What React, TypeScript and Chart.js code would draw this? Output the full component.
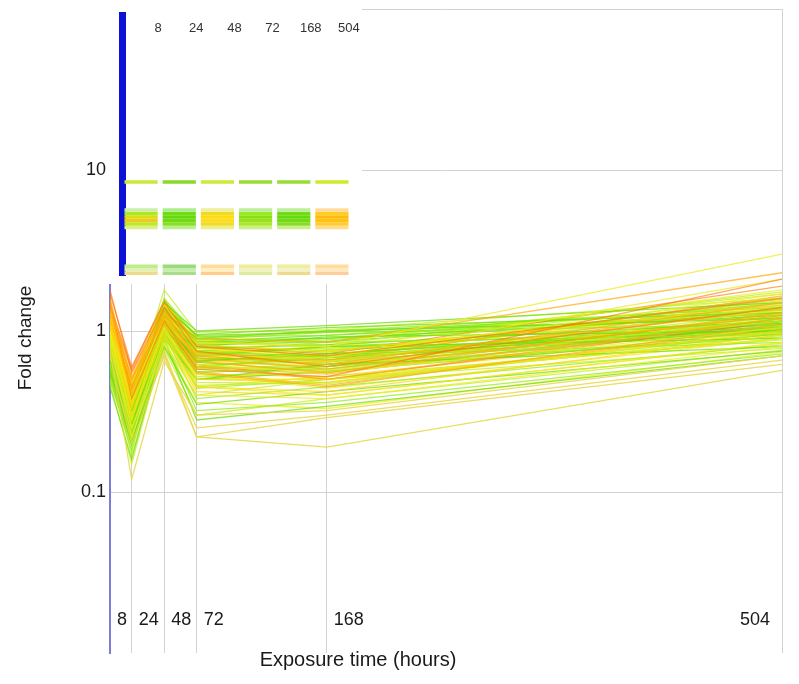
import React, { useEffect, useRef } from "react";
import { Chart, registerables } from "chart.js";

Chart.register(...registerables);

// ---------- data ----------
const timePoints = [8, 24, 48, 72, 168, 504];
const timeLabels = ["8", "24", "48", "72", "168", "504"];
const yTickValues = [0.1, 1, 10];
const yTickLabels = ["0.1", "1", "10"];
const yGridValues = [0.1, 1, 10, 100];

// fold change at 8, 24, 48, 72, 168, 504 h
const seriesValues: number[][] = [
  [1.8, 0.55, 1.4, 0.75, 0.6, 1.4],
  [1.6, 0.45, 1.3, 0.65, 0.55, 1.3],
  [1.5, 0.5, 1.2, 0.6, 0.5, 1.2],
  [1.7, 0.6, 1.5, 0.8, 0.7, 1.6],
  [1.4, 0.4, 1.1, 0.55, 0.45, 1.1],
  [1.3, 0.35, 1.0, 0.5, 0.48, 1.0],
  [1.2, 0.42, 1.25, 0.7, 0.62, 1.5],
  [1.55, 0.38, 1.15, 0.58, 0.52, 2.1],
  [1.1, 0.3, 0.95, 0.45, 0.42, 0.95],
  [1.35, 0.5, 1.35, 0.68, 0.58, 1.25],
  [1.0, 0.3, 1.1, 0.62, 0.55, 1.05],
  [0.95, 0.28, 1.05, 0.5, 0.5, 0.9],
  [0.9, 0.25, 0.9, 0.45, 0.4, 0.85],
  [1.05, 0.33, 1.2, 0.72, 0.65, 1.35],
  [0.85, 0.22, 0.85, 0.4, 0.38, 0.8],
  [1.15, 0.36, 1.3, 0.78, 0.7, 1.7],
  [0.8, 0.25, 0.75, 0.22, 0.19, 0.57],
  [0.7, 0.2, 0.7, 0.22, 0.29, 0.62],
  [0.75, 0.12, 0.65, 0.3, 0.32, 0.7],
  [1.0, 0.4, 1.2, 0.85, 0.8, 3.0],
  [1.1, 0.45, 1.3, 0.9, 0.85, 2.3],
  [0.95, 0.35, 1.15, 0.7, 0.68, 2.1],
  [0.9, 0.3, 1.0, 0.6, 0.58, 1.2],
  [1.2, 0.48, 1.45, 0.82, 0.75, 1.45],
  [0.9, 0.35, 1.4, 0.95, 1.05, 1.3],
  [0.8, 0.3, 1.3, 0.9, 1.0, 1.2],
  [0.7, 0.28, 1.25, 0.88, 0.98, 1.1],
  [0.65, 0.25, 1.2, 0.8, 0.92, 1.0],
  [0.6, 0.22, 1.1, 0.75, 0.85, 0.95],
  [0.55, 0.2, 1.0, 0.7, 0.8, 0.9],
  [0.5, 0.18, 0.95, 0.6, 0.7, 0.85],
  [0.45, 0.16, 0.9, 0.5, 0.62, 0.8],
  [0.48, 0.15, 0.85, 0.4, 0.5, 0.78],
  [0.6, 0.2, 0.8, 0.35, 0.42, 0.75],
  [0.7, 0.24, 0.95, 0.38, 0.45, 0.82],
  [0.85, 0.32, 1.5, 1.0, 1.08, 1.5],
  [0.75, 0.3, 1.6, 0.92, 1.0, 1.4],
  [0.95, 0.4, 1.8, 0.98, 1.02, 1.6],
  [0.68, 0.26, 1.35, 0.85, 0.9, 1.25],
  [0.58, 0.22, 1.15, 0.65, 0.72, 1.05],
  [0.52, 0.19, 1.05, 0.55, 0.6, 0.92],
  [0.62, 0.23, 1.0, 0.45, 0.52, 0.88],
  [0.78, 0.27, 1.1, 0.52, 0.56, 1.0],
  [0.88, 0.3, 1.2, 0.58, 0.6, 1.15],
  [0.72, 0.26, 0.9, 0.32, 0.36, 0.72],
  [0.66, 0.2, 0.88, 0.28, 0.34, 0.7],
  [0.56, 0.17, 0.78, 0.3, 0.38, 0.76],
  [0.82, 0.29, 1.05, 0.48, 0.47, 0.98],
  [0.92, 0.33, 1.28, 0.66, 0.64, 1.3],
  [1.02, 0.38, 1.38, 0.76, 0.74, 1.55],
  [0.76, 0.28, 1.22, 0.84, 0.88, 1.35],
  [0.64, 0.24, 1.12, 0.78, 0.82, 1.15],
  [0.98, 0.42, 1.5, 0.88, 0.78, 1.8],
  [1.25, 0.52, 1.4, 0.74, 0.66, 1.65],
  [1.45, 0.58, 1.55, 0.82, 0.72, 1.9],
  [1.3, 0.44, 1.2, 0.62, 0.5, 1.15],
  [1.15, 0.4, 1.1, 0.56, 0.46, 1.05],
  [0.86, 0.31, 0.98, 0.54, 0.44, 0.9],
  [0.74, 0.27, 0.92, 0.42, 0.4, 0.84],
  [0.63, 0.21, 0.82, 0.36, 0.33, 0.74],
  [0.9, 0.37, 1.25, 0.8, 0.76, 1.38],
  [0.8, 0.34, 1.18, 0.74, 0.7, 1.22],
  [0.7, 0.29, 1.08, 0.68, 0.66, 1.12],
  [1.05, 0.46, 1.42, 0.86, 0.82, 1.75],
  [0.5, 0.2, 0.72, 0.25, 0.3, 0.66],
  [0.95, 0.36, 1.32, 0.6, 0.54, 1.2],
  [1.08, 0.41, 1.18, 0.66, 0.6, 1.28],
  [0.84, 0.3, 1.06, 0.56, 0.58, 1.08],
  [0.66, 0.25, 0.96, 0.5, 0.56, 0.96],
  [0.58, 0.23, 1.02, 0.64, 0.76, 1.02],
  [0.78, 0.33, 1.28, 0.72, 0.68, 1.18],
  [0.88, 0.36, 1.36, 0.8, 0.74, 1.32],
  [0.68, 0.3, 1.2, 0.7, 0.72, 1.1],
  [1.0, 0.44, 1.45, 0.78, 0.7, 1.42],
  [0.72, 0.31, 1.15, 0.62, 0.64, 1.06],
  [0.62, 0.27, 1.1, 0.66, 0.7, 1.0],
  [0.94, 0.39, 1.3, 0.7, 0.62, 1.25],
  [1.12, 0.47, 1.38, 0.72, 0.64, 1.4],
  [0.84, 0.35, 1.24, 0.64, 0.6, 1.14],
  [0.76, 0.32, 1.18, 0.6, 0.57, 1.08],
  [0.66, 0.28, 1.14, 0.58, 0.62, 1.04],
  [0.54, 0.24, 1.06, 0.6, 0.68, 0.98],
  [0.98, 0.43, 1.48, 0.84, 0.8, 1.6],
  [0.86, 0.38, 1.4, 0.88, 0.9, 1.48],
  [0.74, 0.34, 1.3, 0.82, 0.86, 1.3],
  [1.18, 0.5, 1.42, 0.76, 0.68, 1.52],
  [1.4, 0.56, 1.48, 0.8, 0.7, 1.58],
  [0.92, 0.4, 1.34, 0.68, 0.62, 1.22],
  [0.8, 0.36, 1.26, 0.66, 0.66, 1.16],
  [0.7, 0.32, 1.22, 0.74, 0.78, 1.12],
  [0.6, 0.26, 1.16, 0.72, 0.8, 1.06],
  [0.82, 0.34, 1.1, 0.5, 0.5, 0.96],
  [0.9, 0.38, 1.16, 0.54, 0.52, 1.02],
  [1.06, 0.43, 1.26, 0.64, 0.56, 1.1],
  [0.76, 0.3, 1.04, 0.46, 0.48, 0.94],
  [0.64, 0.27, 0.98, 0.44, 0.5, 0.9],
  [0.96, 0.41, 1.52, 0.92, 0.94, 1.44],
  [0.88, 0.37, 1.44, 0.94, 0.98, 1.36],
  [1.02, 0.45, 1.56, 0.9, 0.86, 1.7],
  [0.8, 0.33, 1.34, 0.86, 0.94, 1.28],
];

const seriesColorKeys: string[] = [
  "R", "O", "O", "R", "O", "Y2", "O", "R", "Y2", "O",
  "Y", "Y", "Y", "Y2", "Y", "Y", "LY", "LY", "LY", "Y",
  "O", "Y", "YG", "Y2", "G", "G", "G2", "G", "G2", "G",
  "G2", "G", "YG", "G", "G2", "G", "G2", "YG", "G", "G",
  "G2", "YG", "YG", "YG", "G2", "G", "YG", "YG", "YG", "YG",
  "G2", "G", "Y", "O", "R", "R", "O", "Y", "Y2", "Y",
  "YG", "G2", "G", "YG", "LY", "O", "Y2", "G2", "G", "G",
  "G2", "YG", "G", "Y", "G2", "G", "Y2", "O", "YG", "YG",
  "G2", "G", "YG", "G2", "G", "Y2", "O", "Y", "YG", "G2",
  "G", "Y", "Y2", "O", "YG", "G2", "G2", "G", "YG", "G",
];

const palette: Record<string, string> = {
  G: "rgba(110,222,10,0.75)",
  G2: "rgba(150,235,25,0.75)",
  YG: "rgba(195,238,30,0.75)",
  Y: "rgba(238,236,30,0.75)",
  Y2: "rgba(255,214,10,0.75)",
  O: "rgba(255,170,10,0.7)",
  R: "rgba(255,115,10,0.62)",
  LY: "rgba(232,215,70,0.85)",
};

// inset heat-map rows (row index from top) and cell colours per time point
const insetRowCount = 74;
const insetRows = [47, 55, 56, 57, 58, 59, 60, 71, 72, 73];
const insetColors: string[][] = [
  ["#c8ea3a", "#8ad82a", "#cdea3a", "#98dc34", "#98dc34", "#cfea2a"],
  ["#cdeeaa", "#acee8c", "#eeee9c", "#bcee9c", "#bcee9c", "#ffdc9c"],
  ["#aaea22", "#74da12", "#eedc22", "#9aea22", "#74da12", "#ffcc22"],
  ["#dcdc14", "#62da12", "#ffdc12", "#88e012", "#64da12", "#ffba12"],
  ["#eccc24", "#74da12", "#ffdc24", "#98e024", "#74da12", "#ffc412"],
  ["#bcea24", "#88e024", "#eedc24", "#aaea24", "#88dc24", "#ffcc34"],
  ["#dcee8c", "#bcee8c", "#eeee8c", "#ccee8c", "#ccee8c", "#ffdc8c"],
  ["#bcee8c", "#9adc7c", "#ffdc9c", "#eeee9c", "#eeee9c", "#ffdc9c"],
  ["#e4f0b0", "#c4eeaa", "#fff0c0", "#f2f2c0", "#f2f2c8", "#ffeac0"],
  ["#eedc8c", "#aadc8c", "#ffcc8c", "#dcee9c", "#eedc8c", "#ffcc9c"],
];

const FONT = '"Liberation Sans", Arial, sans-serif';

const mainTextPlugin = {
  id: "mainTexts",
  afterDraw(chart: any) {
    const { ctx } = chart;
    const xs = chart.scales.x;
    const ys = chart.scales.y;
    ctx.save();
    ctx.fillStyle = "#1a1a1a";
    ctx.font = `18px ${FONT}`;
    ctx.textAlign = "right";
    ctx.textBaseline = "middle";
    yTickValues.forEach((v, i) => {
      ctx.fillText(yTickLabels[i], xs.left - 4, ys.getPixelForValue(v));
    });
    timePoints.forEach((t, i) => {
      const px = xs.getPixelForValue(t);
      const last = i === timePoints.length - 1;
      ctx.textAlign = last ? "right" : "left";
      ctx.fillText(timeLabels[i], last ? px - 12 : px + 7, 620);
    });
    ctx.font = `20px ${FONT}`;
    ctx.textAlign = "center";
    ctx.fillText("Exposure time (hours)", 358, 660);
    ctx.translate(26, 338);
    ctx.rotate(-Math.PI / 2);
    ctx.font = `19px ${FONT}`;
    ctx.fillText("Fold change", 0, 0);
    ctx.restore();
  },
};

const insetTextPlugin = {
  id: "insetTexts",
  afterDraw(chart: any) {
    const { ctx } = chart;
    const xs = chart.scales.x;
    ctx.save();
    ctx.fillStyle = "#333";
    ctx.font = `13px ${FONT}`;
    ctx.textAlign = "center";
    ctx.textBaseline = "middle";
    timeLabels.forEach((lab, i) => {
      ctx.fillText(lab, xs.getPixelForValue(i) + 17, 28);
    });
    ctx.restore();
  },
};

export default function App() {
  const mainRef = useRef<HTMLCanvasElement | null>(null);
  const insetRef = useRef<HTMLCanvasElement | null>(null);

  useEffect(() => {
    document.body.style.margin = "0";
    const main = new Chart(mainRef.current as HTMLCanvasElement, {
      type: "line",
      data: {
        datasets: seriesValues.map((vals, i) => ({
          data: vals.map((v, j) => ({ x: timePoints[j], y: v })),
          borderColor: palette[seriesColorKeys[i]],
          borderWidth: 1.3,
          pointRadius: 0,
          tension: 0,
          fill: false,
        })),
      },
      options: {
        responsive: false,
        animation: false,
        layout: { padding: { left: 110, right: 17, top: 9, bottom: 31 } },
        plugins: { legend: { display: false }, tooltip: { enabled: false } },
        scales: {
          x: {
            type: "linear",
            min: 8,
            max: 504,
            afterBuildTicks: (s: any) => {
              s.ticks = timePoints.map((v) => ({ value: v }));
            },
            ticks: { display: false },
            grid: { color: "#d2d2d2", lineWidth: 1, drawTicks: false },
            border: { display: false },
          },
          y: {
            type: "logarithmic",
            min: 0.01,
            max: 100,
            afterBuildTicks: (s: any) => {
              s.ticks = yGridValues.map((v) => ({ value: v }));
            },
            ticks: { display: false },
            grid: { color: "#d2d2d2", lineWidth: 1, drawTicks: false },
            border: { display: true, color: "#7d7dd8", width: 2 },
          },
        },
      } as any,
      plugins: [mainTextPlugin],
    });

    const inset = new Chart(insetRef.current as HTMLCanvasElement, {
      type: "bar",
      data: {
        labels: timeLabels,
        datasets: insetRows.map((r, i) => ({
          data: insetColors[i].map(() => [r, r + 1]),
          backgroundColor: insetColors[i],
          borderWidth: 0,
          grouped: false,
          barPercentage: 0.87,
          categoryPercentage: 1,
        })),
      },
      options: {
        responsive: false,
        animation: false,
        layout: { padding: { left: 13, right: 11, top: 15, bottom: 9 } },
        plugins: { legend: { display: false }, tooltip: { enabled: false } },
        scales: {
          x: { type: "category", display: false, offset: true },
          y: {
            type: "linear",
            min: 0,
            max: insetRowCount,
            reverse: true,
            ticks: { display: false },
            grid: { display: false, drawTicks: false },
            border: { display: true, color: "#0b12d6", width: 7 },
          },
        },
      } as any,
      plugins: [insetTextPlugin],
    });

    return () => {
      main.destroy();
      inset.destroy();
    };
  }, []);

  return (
    <div style={{ position: "relative", width: 799, height: 684, background: "#fff" }}>
      <canvas ref={mainRef} width={799} height={684} style={{ display: "block" }} />
      <canvas
        ref={insetRef}
        width={253}
        height={284}
        style={{ position: "absolute", left: 109, top: 0, background: "#fff", display: "block" }}
      />
    </div>
  );
}
